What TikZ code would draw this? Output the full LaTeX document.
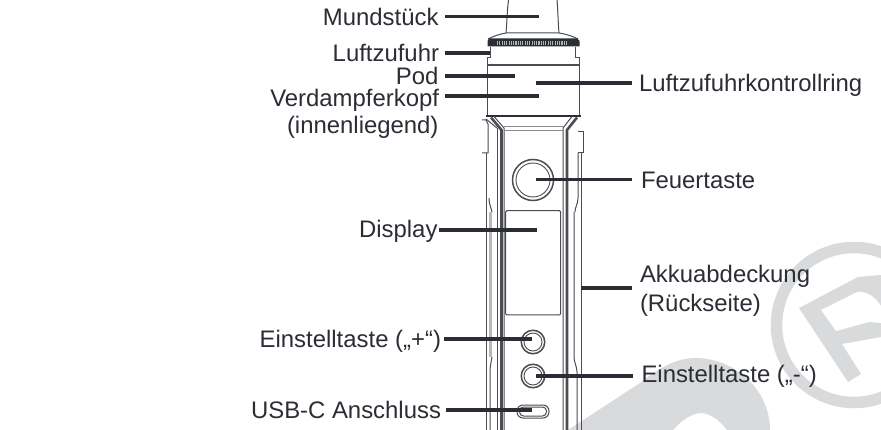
\documentclass[tikz,border=0pt]{standalone}
\usepackage{fontspec}
\setmainfont{Liberation Sans}
\definecolor{ink}{HTML}{2A2D34}
\definecolor{wm}{HTML}{D9DADB}
\definecolor{dev}{HTML}{4A4C52}
\tikzset{
  lab/.style={font=\fontsize{23.9}{26}\selectfont, text=ink, inner sep=0pt, outer sep=0pt},
  labL/.style={lab, anchor=base east},
  labR/.style={lab, anchor=base west},
  lead/.style={draw=ink, line width=3.4pt},
  thin line/.style={draw=dev, line width=1pt},
  heavy line/.style={draw=dev, line width=2.6pt},
  pale line/.style={draw=black!45, line width=1pt},
  soft line/.style={draw=black!28, line width=2.6pt},
}
\begin{document}
\begin{tikzpicture}[x=1pt,y=-1pt]
\useasboundingbox (0,0) rectangle (881,430);
\begin{scope}
\clip (0,0) rectangle (881,430);
% watermark
\draw[wm, line width=11.5pt] (854,325) circle (77.5);
\fill[wm] (799,308) -- (858,277) -- (881,275) -- (881,337) -- (842,344) -- (861,374) -- (848,382) -- cycle;
\fill[white] (821,310) -- (857,292) .. controls (868,291) and (876,298) .. (881,306) -- (881,323) -- (869,322) -- (836,331) -- cycle;
\fill[wm] (568,430) -- (640,383) .. controls (662,365) and (680,358) .. (695,358)
  .. controls (735,358) and (770,390) .. (770,430)
  -- (727,430) .. controls (718,418) and (708,413) .. (700,413)
  .. controls (690,414) and (680,422) .. (673,430) -- cycle;
\end{scope}
% mouthpiece
\draw[thin line] (508.5,0) .. controls (507,12) and (507,22) .. (506,33);
\draw[thin line] (557,0) .. controls (558,12) and (558,22) .. (559,33);
\draw[thin line] (488,39) .. controls (494,36) and (500,34) .. (506,33) -- (559,33) .. controls (566,34) and (572,36) .. (578,39);
% knurled ring
\fill[ink] (489,38.5) -- (577,38.5) -- (579.5,41) -- (579.5,46.5) -- (487.5,46.5) -- (487.5,41) -- cycle;
\foreach \k in {0,2.3,...,70}{\fill[white!70!black] (497+\k,41) rectangle ++(1.1,4);}
% pod
\draw[thin line] (490,47) -- (490,58) -- (487.5,58) -- (487.5,116);
\draw[thin line] (575,47) -- (575,58) -- (579,58) -- (579,116);
\draw[draw=dev, line width=1.3pt] (487.5,65) -- (579,65);
\draw[draw=ink, line width=1.2pt] (486,116) -- (581,116);
% shoulders
\draw[thin line] (504,430) -- (504,128) -- (494,116.5);
\draw[heavy line] (501.5,430) -- (501.5,130) -- (491,117.5);
\draw[thin line] (563,430) -- (563,128) -- (572,116.5);
\draw[heavy line] (567,430) -- (567,130) -- (577,117.5);
\draw[pale line] (504,127) -- (563,127);
\draw[pale line] (504,131) -- (563,131);
\draw[thin line] (497,128) -- (497,430);
\draw[thin line] (486,119) -- (497,128);
% outer shell
\draw[thin line] (482,120) -- (486,120) -- (488,124) -- (488,153) -- (482,153);
\draw[thin line] (486,153) -- (486,430);
\draw[thin line] (581,153) -- (581,430);
\draw[thin line] (578,132) -- (583,132) -- (583,153) -- (578,153);
\draw[thin line] (578,153) -- (578,198) .. controls (578,204) and (575,207) .. (575,212);
\draw[thin line] (489,198) .. controls (489,204) and (491,207) .. (492,212);
\draw[soft line] (490.5,212) -- (490.5,357);
\draw[thin line] (492,357) .. controls (491,362) and (490,367) .. (490,372) -- (490,430);
\draw[thin line] (574,212) -- (574,357) .. controls (574,362) and (577,367) .. (577,372) -- (577,430);
% display
\draw[draw=dev, line width=1pt, rounded corners=1.2pt] (505.7,210.7) rectangle (560.7,315);
% buttons
\node[circle, draw=dev, line width=1.5pt, minimum size=41pt, inner sep=0pt] (fire) at (533,180) {};
\node[circle, draw=dev, line width=.9pt, minimum size=34pt, inner sep=0pt] at (533,180) {};
\node[circle, draw=dev, line width=1.5pt, minimum size=23.5pt, inner sep=0pt] (plus) at (533,342) {};
\node[circle, draw=dev, line width=.9pt, minimum size=18pt, inner sep=0pt] at (533,342) {};
\node[circle, draw=dev, line width=1.5pt, minimum size=23.5pt, inner sep=0pt] (minus) at (533,376) {};
\node[circle, draw=dev, line width=.9pt, minimum size=18pt, inner sep=0pt] at (533,376) {};
% usb
\node[draw=dev, line width=1pt, rounded corners=6pt, minimum width=32pt, minimum height=13pt, inner sep=0pt] (usb) at (533,411.5) {};
\node[draw=dev, line width=1pt, rounded corners=4pt, minimum width=27pt, minimum height=9pt, inner sep=0pt] at (533,411.5) {};
% coordinates of the leader ends
\coordinate (m1) at (445,16.5); \coordinate (m2) at (539,16.5);
\coordinate (l1) at (445,53);   \coordinate (l2) at (490,53);
\coordinate (p1) at (445,76);   \coordinate (p2) at (515,76);
\coordinate (v1) at (445,96);   \coordinate (v2) at (539,96);
\coordinate (r1) at (536,83);   \coordinate (r2) at (632,83);
\coordinate (f1) at (536,179.5);\coordinate (f2) at (632,179.5);
\coordinate (d1) at (439,230);  \coordinate (d2) at (537,230);
\coordinate (a1) at (581,288);  \coordinate (a2) at (632,288);
\coordinate (e1) at (444,339);  \coordinate (e2) at (532,339);
\coordinate (n1) at (536,376);  \coordinate (n2) at (633,376);
\coordinate (u1) at (446,410);  \coordinate (u2) at (532,410);
\foreach \a/\b in {m1/m2,l1/l2,p1/p2,v1/v2,r1/r2,f1/f2,d1/d2,a1/a2,e1/e2,n1/n2,u1/u2}
  \draw[lead] (\a) -- (\b);
% labels
\node[labL] (tm) at (438.5,25.7) {Mundstück};
\node[labL] (tl) at (439,61.7) {Luftzufuhr};
\node[labL] (tp) at (438.5,85) {Pod};
\node[labL] (tv) at (439,106.7) {Verdampferkopf};
\node[labL] (ti) at (438.5,134) {(innenliegend)};
\node[labL] (td) at (437.5,238) {Display};
\node[labL] (te) at (441,348) {Einstelltaste („+“)};
\node[labL] (tu) at (441,418) {USB-C Anschluss};
\node[labR] (tr) at (639,92) {Luftzufuhrkontrollring};
\node[labR] (tf) at (641,189) {Feuertaste};
\node[labR] (ta) at (640,283) {Akkuabdeckung};
\node[labR] (tb) at (640,312) {(Rückseite)};
\node[labR] (tn) at (641.5,382) {Einstelltaste („-“)};
\end{tikzpicture}
\end{document}
